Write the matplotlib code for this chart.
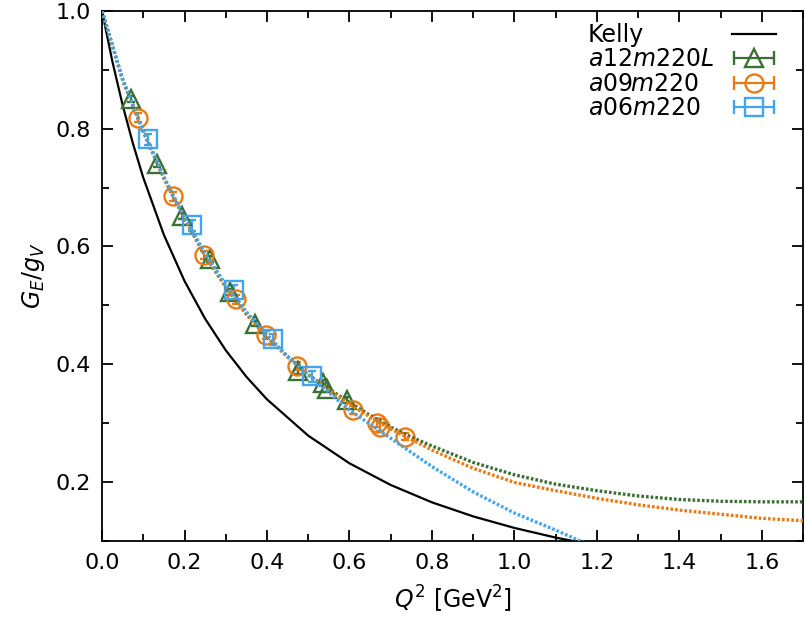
import numpy as np
import matplotlib
matplotlib.use('Agg')
import matplotlib.pyplot as plt
from matplotlib.ticker import MultipleLocator
from matplotlib.lines import Line2D
from matplotlib.container import ErrorbarContainer
from matplotlib.legend_handler import HandlerErrorbar

plt.rcParams['font.family'] = ['DejaVu Sans']
plt.rcParams['mathtext.fontset'] = 'dejavusans'

# colours
c_green = '#3b7034'
c_orange = '#ea7a12'
c_blue = '#42a5ee'

###########################################################
# values
###########################################################

# Kelly parameterisation (isovector G_E)
kelly_q2 = [0.0, 0.025, 0.05, 0.075, 0.1, 0.15, 0.2, 0.25, 0.3, 0.35, 0.4,
            0.5, 0.6, 0.7, 0.8, 0.9, 1.0, 1.1, 1.2]
kelly_ge = [1.0, 0.9145, 0.840, 0.7746, 0.7168, 0.6196, 0.5413, 0.4771, 0.4236,
            0.3786, 0.3402, 0.2785, 0.2315, 0.1947, 0.1652, 0.1413, 0.1217,
            0.1053, 0.0915]

# fit curves
fit_q2 = [0.0, 0.05, 0.1, 0.15, 0.2, 0.25, 0.3, 0.35, 0.4, 0.45, 0.5, 0.55,
          0.6, 0.65, 0.7, 0.75, 0.8, 0.9, 1.0, 1.1, 1.2, 1.3, 1.4, 1.5, 1.6, 1.7]
fit_a12 = [1.0, 0.883, 0.795, 0.716, 0.647, 0.584, 0.531, 0.485, 0.446, 0.413,
           0.382, 0.358, 0.335, 0.313, 0.293, 0.276, 0.261, 0.233, 0.212,
           0.196, 0.185, 0.176, 0.170, 0.167, 0.166, 0.166]
fit_a09 = [1.0, 0.883, 0.796, 0.717, 0.648, 0.585, 0.532, 0.485, 0.447, 0.412,
           0.382, 0.356, 0.332, 0.310, 0.290, 0.272, 0.254, 0.223, 0.199,
           0.185, 0.172, 0.161, 0.152, 0.145, 0.138, 0.134]
fit_a06 = [1.0, 0.884, 0.797, 0.718, 0.650, 0.588, 0.535, 0.489, 0.450, 0.413,
           0.382, 0.352, 0.322, 0.298, 0.274, 0.250, 0.226, 0.183, 0.147,
           0.118, 0.087, np.nan, np.nan, np.nan, np.nan, np.nan]

# lattice data
a12_q2 = [0.070, 0.133, 0.193, 0.262, 0.310, 0.371, 0.476, 0.535, 0.545, 0.593]
a12_ge = [0.850, 0.740, 0.652, 0.578, 0.523, 0.469, 0.388, 0.368, 0.358, 0.339]
a12_err = [0.005, 0.005, 0.005, 0.005, 0.005, 0.005, 0.005, 0.005, 0.005, 0.005]

a09_q2 = [0.088, 0.171, 0.248, 0.325, 0.398, 0.472, 0.608, 0.668, 0.673, 0.735]
a09_ge = [0.819, 0.685, 0.585, 0.510, 0.450, 0.397, 0.322, 0.300, 0.293, 0.277]
a09_err = [0.007, 0.007, 0.007, 0.007, 0.007, 0.007, 0.007, 0.007, 0.007, 0.006]

a06_q2 = [0.112, 0.2175, 0.319, 0.414, 0.509]
a06_ge = [0.782, 0.636, 0.526, 0.442, 0.379]
a06_err = [0.009, 0.009, 0.009, 0.009, 0.009]

labels = ['Kelly', r'$a12m220L$', r'$a09m220$', r'$a06m220$']

###########################################################

fig = plt.figure(figsize=(8.06, 6.19), dpi=100)
ax = fig.add_axes([0.1266, 0.1265, 0.8697, 0.8557])

ax.plot(kelly_q2, kelly_ge, '-', color='k', lw=1.6, zorder=2)

ms_kw = dict(mfc='none', mew=1.7, capsize=3, elinewidth=1.6, capthick=1.6,
             ls='none', zorder=3)
ax.errorbar(a12_q2, a12_ge, yerr=a12_err, marker='^', ms=13.5, color=c_green, **ms_kw)
ax.errorbar(a09_q2, a09_ge, yerr=a09_err, marker='o', ms=13, color=c_orange, **ms_kw)
ax.errorbar(a06_q2, a06_ge, yerr=a06_err, marker='s', ms=12.5, color=c_blue, **ms_kw)

dot = (0, (0.8, 0.6))
ax.plot(fit_q2, fit_a12, color=c_green, lw=2.4, ls=dot, zorder=4)
ax.plot(fit_q2, fit_a09, color=c_orange, lw=2.4, ls=dot, zorder=4)
ax.plot(fit_q2, fit_a06, color=c_blue, lw=2.4, ls=dot, zorder=4)

# legend: handles on the right (gnuplot style, horizontal error bars),
# texts left aligned in a second legend
h0, = ax.plot([], [], '-', color='k', lw=1.6)
leg_kw = dict(mfc='none', mew=1.7, capsize=5, elinewidth=1.6, capthick=1.6, ls='none')
h1 = ax.errorbar([np.nan], [np.nan], xerr=[1.0], marker='^', ms=13.5, color=c_green, **leg_kw)
h2 = ax.errorbar([np.nan], [np.nan], xerr=[1.0], marker='o', ms=13, color=c_orange, **leg_kw)
h3 = ax.errorbar([np.nan], [np.nan], xerr=[1.0], marker='s', ms=12.5, color=c_blue, **leg_kw)

common = dict(frameon=False, fontsize=17, labelspacing=0.02, borderaxespad=0.1)

lgd_h = ax.legend([h0, h1, h2, h3], labels, loc='upper right', markerfirst=False,
                  handlelength=1.9, handletextpad=0.8, bbox_to_anchor=(0.979, 1.0),
                  handler_map={ErrorbarContainer: HandlerErrorbar(xerr_size=0.85)},
                  **common)
for t in lgd_h.get_texts():
    t.set_alpha(0)
ax.add_artist(lgd_h)

blank = [Line2D([], [], ls='none') for _ in labels]
lgd_t = ax.legend(blank, labels, loc='upper left', handlelength=0, handletextpad=0,
                  bbox_to_anchor=(0.676, 1.0), **common)

ax.set_xlim(0, 1.7)
ax.set_ylim(0.1, 1.0)
ax.xaxis.set_major_locator(MultipleLocator(0.2))
ax.xaxis.set_minor_locator(MultipleLocator(0.1))
ax.yaxis.set_major_locator(MultipleLocator(0.2))
ax.yaxis.set_minor_locator(MultipleLocator(0.1))
ax.tick_params(axis='both', which='both', direction='in', top=True, right=True,
               labelsize=16, width=1.3)
ax.tick_params(which='major', length=8)
ax.tick_params(which='minor', length=5)
ax.tick_params(axis='x', pad=9)
ax.tick_params(axis='y', pad=8)
for s in ax.spines.values():
    s.set_linewidth(1.3)

ax.set_xlabel(r'$Q^2$ [GeV$^2$]', fontsize=17, labelpad=8)
ax.set_ylabel(r'$G_E/g_V$', fontsize=17, labelpad=6)

plt.savefig('out.png', dpi=100)
